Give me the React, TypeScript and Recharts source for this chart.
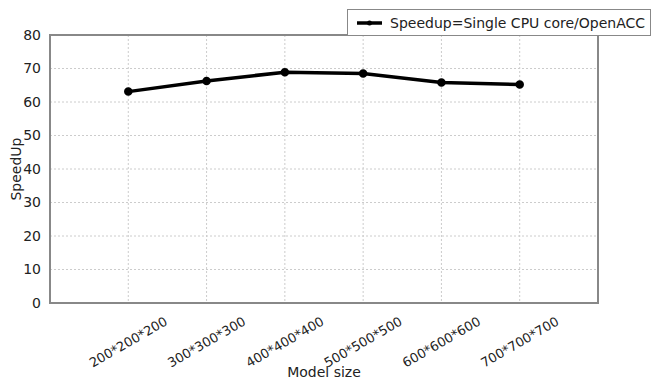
import React from 'react';
import {
    LineChart, Line, XAxis, YAxis, CartesianGrid, ReferenceArea, Label,
} from 'recharts';

const categories = ['200*200*200', '300*300*300', '400*400*400', '500*500*500', '600*600*600', '700*700*700'];
const speedup = [63.1, 66.3, 68.9, 68.5, 65.8, 65.2];
const yTicks = [0, 10, 20, 30, 40, 50, 60, 70, 80];
const seriesName = 'Speedup=Single CPU core/OpenACC';

const data = categories.map((c, i) => ({ pos: i + 1, label: c, speedup: speedup[i] }));

const FONT = '"DejaVu Sans", sans-serif';

// matplotlib style: rotated 30deg, centred on the tick
const RotatedTick = (props: any) => {
    const { x, y, payload } = props;
    return (
        <g transform={`translate(${x},${y + 31})`}>
            <text transform="rotate(-30)" textAnchor="middle" fontSize={13} fill="#222" fontFamily={FONT} dy="0.35em">
                {categories[payload.value - 1]}
            </text>
        </g>
    );
};

const LegendBox = () => (
    <div style={{
        position: 'absolute', left: 347, top: 9,
        border: '1px solid #888', background: '#fff', width: 304, height: 27,
        boxSizing: 'border-box', display: 'flex', alignItems: 'center', fontFamily: FONT, fontSize: 14, color: '#222',
        whiteSpace: 'nowrap', overflow: 'hidden',
    }}>
        <svg width={42} height={12} style={{ flexShrink: 0 }}>
            <line x1={9} y1={6} x2={34} y2={6} stroke="#000" strokeWidth={3.5} />
            <circle cx={21.5} cy={6} r={2.5} fill="#000" />
        </svg>
        <span>{seriesName}</span>
    </div>
);

export default function App() {
    return (
        <div style={{ position: 'absolute', left: 0, top: 0, width: 655, height: 379, background: '#fff' }}>
            <LineChart width={655} height={379} data={data} margin={{ top: 35, right: 57, left: 0, bottom: 0 }}>
                <CartesianGrid stroke="#ccc" strokeDasharray="2 2" />
                <XAxis
                    dataKey="pos" type="number" domain={[0, 7]} ticks={[1, 2, 3, 4, 5, 6]}
                    height={76} tick={<RotatedTick />} tickLine={false}
                    axisLine={{ stroke: '#888', strokeWidth: 2 }}
                >
                    <Label value="Model size" position="insideBottom" offset={2} style={{ fontFamily: FONT, fontSize: 14, fill: '#222' }} />
                </XAxis>
                <YAxis
                    domain={[0, 80]} ticks={yTicks} width={50} tickLine={false} tickMargin={3}
                    tick={{ fontFamily: FONT, fontSize: 14, fill: '#222' }}
                    axisLine={{ stroke: '#888', strokeWidth: 2 }}
                >
                    <Label value="SpeedUp" angle={-90} position="insideLeft" offset={16} style={{ fontFamily: FONT, fontSize: 14, fill: '#222', textAnchor: 'middle' }} />
                </YAxis>
                <ReferenceArea x1={0} x2={7} y1={0} y2={80} fill="none" stroke="#888" strokeWidth={2} ifOverflow="visible" />
                <Line
                    dataKey="speedup" name={seriesName} stroke="#000" strokeWidth={3.5}
                    dot={{ r: 2.5, fill: '#000', stroke: '#000' }} isAnimationActive={false}
                />
            </LineChart>
            <LegendBox />
        </div>
    );
}
